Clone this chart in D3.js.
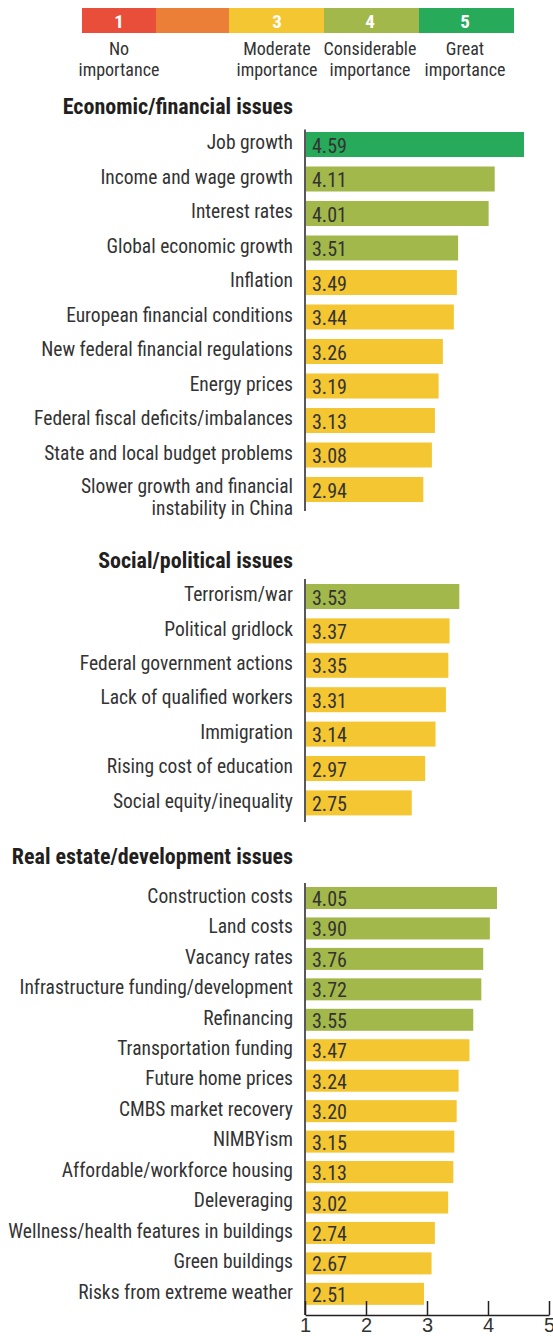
<!DOCTYPE html>
<html><head><meta charset="utf-8">
<script src="https://cdn.jsdelivr.net/npm/d3@7"></script>
<style>
body{margin:0;background:#fff;}
svg{display:block;}
text{font-family:"Liberation Sans Narrow","Arial Narrow","Roboto Condensed",sans-serif;}
</style></head>
<body>
<svg id="chart" width="553" height="1336"></svg>
<script>
// ---- data ----
const legendLevels = [1, 2, 3, 4, 5];
const legendNumbers = ["1", "", "3", "4", "5"];
const legendLabels = [["No", "importance"], [], ["Moderate", "importance"], ["Considerable", "importance"], ["Great", "importance"]];
const levelColors = ["#E84E3A", "#EB7F38", "#F4C632", "#A3B84A", "#28AA5B"];

const econTitle = "Economic/financial issues";
const econCats = ["Job growth", "Income and wage growth", "Interest rates", "Global economic growth", "Inflation",
  "European financial conditions", "New federal financial regulations", "Energy prices",
  "Federal fiscal deficits/imbalances", "State and local budget problems",
  "Slower growth and financial\ninstability in China"];
const econVals = [4.59, 4.11, 4.01, 3.51, 3.49, 3.44, 3.26, 3.19, 3.13, 3.08, 2.94];

const socTitle = "Social/political issues";
const socCats = ["Terrorism/war", "Political gridlock", "Federal government actions", "Lack of qualified workers",
  "Immigration", "Rising cost of education", "Social equity/inequality"];
const socVals = [3.53, 3.37, 3.35, 3.31, 3.14, 2.97, 2.75];

const reTitle = "Real estate/development issues";
const reCats = ["Construction costs", "Land costs", "Vacancy rates", "Infrastructure funding/development", "Refinancing",
  "Transportation funding", "Future home prices", "CMBS market recovery", "NIMBYism", "Affordable/workforce housing",
  "Deleveraging", "Wellness/health features in buildings", "Green buildings", "Risks from extreme weather"];
const reVals = [4.05, 3.90, 3.76, 3.72, 3.55, 3.47, 3.24, 3.20, 3.15, 3.13, 3.02, 2.74, 2.67, 2.51];

const axisTicks = [1, 2, 3, 4, 5];

// ---- layout ----
const svg = d3.select("#chart");
const axisX = 305;
const labelX = 293;
const textColor = "#333";
const colorOf = v => levelColors[Math.round(v) - 1];

// x scales
const x = d3.scaleLinear().domain([1, 5]).range([axisX, 549]);
// the real-estate panel in the original is drawn on a zero-based scale
const xRe = d3.scaleLinear().domain([0, 5]).range([axisX, axisX + 5 * 47.4]);

// legend
const legendEdges = [82, 156, 229, 324, 419, 514];
const lg = svg.append("g");
lg.selectAll("rect").data(legendLevels).join("rect")
  .attr("x", (d, i) => legendEdges[i]).attr("y", 8)
  .attr("width", (d, i) => legendEdges[i + 1] - legendEdges[i]).attr("height", 25)
  .attr("fill", (d, i) => levelColors[i]);
const legendCenters = [119, 192, 277, 370, 465];
lg.selectAll("text.num").data(legendNumbers).join("text").attr("class", "num")
  .attr("x", (d, i) => legendCenters[i]).attr("y", 27.5)
  .attr("text-anchor", "middle").attr("fill", "#fff")
  .style("font-weight", "bold").style("font-size", "19px").text(d => d);
legendLabels.forEach((lines, i) => {
  lines.forEach((t, j) => {
    lg.append("text").attr("x", legendCenters[i]).attr("y", 54.5 + j * 21)
      .attr("text-anchor", "middle").attr("fill", textColor)
      .style("font-size", "18px").text(t);
  });
});

function section(title, titleY, cats, vals, top, step, barH, lineTop, lineBottom, xs) {
  const gap = step - barH;
  const n = cats.length;
  const y = d3.scaleBand().domain(cats)
    .range([top - gap / 2, top - gap / 2 + n * step])
    .paddingInner(gap / step).paddingOuter(gap / (2 * step));
  const g = svg.append("g");
  g.append("text").attr("x", labelX).attr("y", titleY).attr("text-anchor", "end")
    .attr("fill", "#231f20").style("font-weight", "bold").style("font-size", "22px").text(title);
  const data = cats.map((c, i) => ({c, v: vals[i]}));
  g.selectAll("rect").data(data).join("rect")
    .attr("x", xs(xs.domain()[0]) + 1).attr("y", d => y(d.c))
    .attr("width", d => xs(d.v) - xs(xs.domain()[0]) - 1).attr("height", y.bandwidth())
    .attr("fill", d => colorOf(d.v));
  g.selectAll("text.val").data(data).join("text").attr("class", "val")
    .attr("x", axisX + 7).attr("y", d => y(d.c) + y.bandwidth() / 2).attr("dy", "0.4em")
    .attr("fill", textColor).style("font-size", "20px").text(d => d.v.toFixed(2));
  data.forEach(d => {
    const lines = d.c.split("\n");
    lines.forEach((t, j) => {
      g.append("text").attr("x", labelX)
        .attr("y", y(d.c) + y.bandwidth() / 2 - (lines.length > 1 ? 3 : 1.5) + j * 22)
        .attr("dy", "0.32em").attr("text-anchor", "end")
        .attr("fill", textColor).style("font-size", "19.5px").text(t);
    });
  });
  g.append("line").attr("x1", axisX).attr("x2", axisX).attr("y1", lineTop).attr("y2", lineBottom)
    .attr("stroke", "#231f20").attr("stroke-width", 1.5);
  return y;
}

section(econTitle, 114, econCats, econVals, 132, 34.5, 25, 129.5, 511, x);
section(socTitle, 568, socCats, socVals, 584, 34.4, 25, 579, 822, x);
section(reTitle, 864, reCats, reVals, 887, 30.45, 22, 883, 1315, xRe);

// bottom axis
const ax = svg.append("g").attr("transform", "translate(0,1315)")
  .call(d3.axisBottom(x).tickValues(axisTicks).tickFormat(d3.format("d"))
    .tickSizeInner(-14).tickSizeOuter(0).tickPadding(3));
ax.select(".domain").attr("stroke", "#231f20").attr("stroke-width", 1.5);
ax.selectAll(".tick line").attr("stroke", "#231f20").attr("stroke-width", 1.5);
ax.selectAll(".tick text").attr("fill", textColor)
  .style("font-size", "20px").style("font-family", "'Liberation Sans Narrow','Arial Narrow',sans-serif");
</script>
</body></html>
